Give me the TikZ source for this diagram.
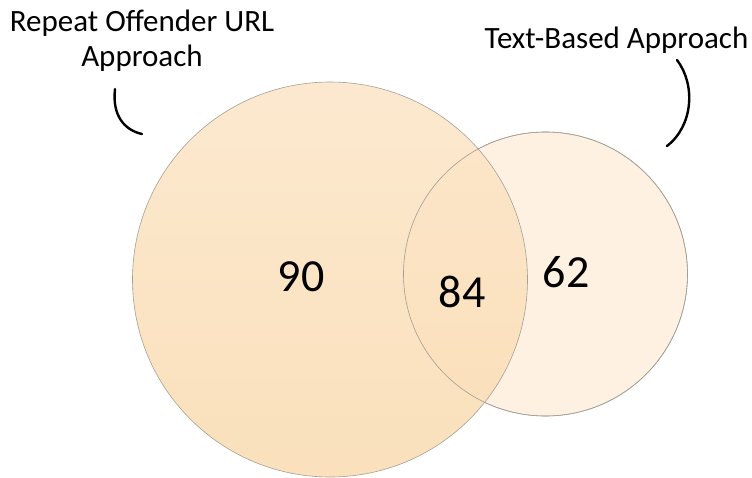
\documentclass[tikz,border=0pt]{standalone}
\usepackage{fontspec}
\setmainfont{Carlito}
\usepackage{tikz}
\usetikzlibrary{calc}
\definecolor{rimgray}{RGB}{165,160,150}
\definecolor{peachtop}{RGB}{252,230,202}
\definecolor{peachbot}{RGB}{250,221,180}
\definecolor{creamfill}{RGB}{254,241,226}
\tikzstyle{setline}=[circle, draw=rimgray, line width=0.6pt, inner sep=0pt]
\tikzstyle{bigset}=[setline, top color=peachtop, bottom color=peachbot, fill opacity=0.9, minimum size=395pt]
\tikzstyle{smallset}=[setline, fill=creamfill, minimum size=284pt]
\tikzstyle{count}=[font=\fontsize{46}{50}\selectfont]
\tikzstyle{setname}=[align=center, font=\fontsize{31}{35}\selectfont]
\tikzstyle{hook}=[line width=2.4pt, line cap=round]

\begin{document}
\begin{tikzpicture}[x=1pt, y=-1pt]
\useasboundingbox (0,0) rectangle (752,477);
\node[smallset] (TB) at (545.5,274) {};
\node[bigset] (RO) at (330,279.5) {};
\node[setline, minimum size=284pt] (TBrim) at (545.5,274) {};
\node[count] (NRO) at (301,277) {90};
\node[count] (NBOTH) at (462,292) {84};
\node[count] (NTB) at (566,272) {62};
\node[setname] (LRO) at (142,40.5) {Repeat Offender URL\\Approach};
\node[setname] (LTB) at (616.5,40) {Text-Based Approach};
\coordinate (ROa) at (115,89);
\coordinate (ROb) at (142,134);
\coordinate (TBa) at (677,60);
\coordinate (TBb) at (667,146);
\draw[hook] (ROa) .. controls (112,115) and (124,130) .. (ROb);
\draw[hook] (TBa) .. controls (696,85) and (693,126) .. (TBb);
\end{tikzpicture}
\end{document}
